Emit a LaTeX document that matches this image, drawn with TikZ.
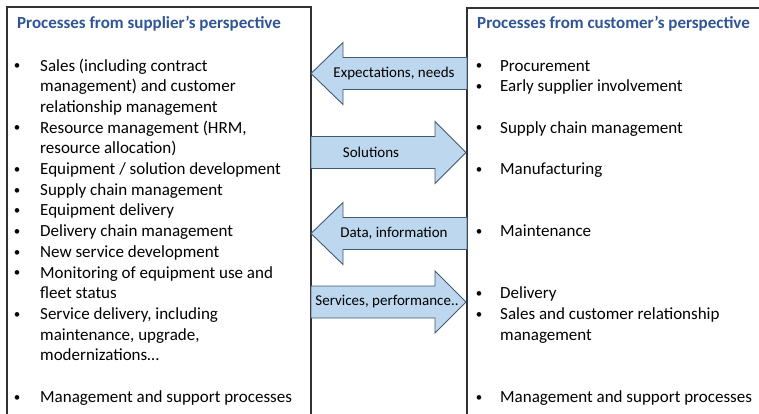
\documentclass[tikz,border=0pt]{standalone}
\usepackage{fontspec}
\setmainfont{Carlito}
\definecolor{titleblue}{RGB}{47,85,151}
\definecolor{arrfill}{RGB}{189,215,238}
\definecolor{arrdraw}{RGB}{65,90,115}
\definecolor{boxline}{RGB}{50,50,50}
\begin{document}
\begin{tikzpicture}[x=1bp,y=-1bp,
  boxln/.style={draw=boxline,line width=1.4bp},
  bigarrow/.style={fill=arrfill,draw=arrdraw,line width=0.9bp,line join=miter},
  ttl/.style={anchor=base west,inner sep=0,text=titleblue,font=\fontsize{17bp}{20bp}\selectfont\bfseries},
  itm/.style={anchor=base west,inner sep=0,font=\fontsize{17bp}{20bp}\selectfont},
  bul/.style={anchor=base,inner sep=0,yshift=1.2bp,font=\fontsize{13bp}{15bp}\selectfont},
  lbl/.style={anchor=center,inner sep=0,font=\fontsize{15bp}{18bp}\selectfont}]
\useasboundingbox (0,0) rectangle (759,413);
% boxes
\draw[boxln] (7,414) -- (7,7) -- (311,7) -- (311,414);
\draw[boxln] (467,414) -- (467,8) -- (760,8);
% arrows
\draw[bigarrow] (311,73.5) -- (343,42.5) -- (343,57.5) -- (467,57.5) -- (467,89.5) -- (343,89.5) -- (343,104.5) -- cycle;
\draw[bigarrow] (311,136.5) -- (435,136.5) -- (435,121.5) -- (466,152.5) -- (435,183.5) -- (435,168.5) -- (311,168.5) -- cycle;
\draw[bigarrow] (311,233.5) -- (343,202.5) -- (343,217.5) -- (467,217.5) -- (467,249.5) -- (343,249.5) -- (343,264.5) -- cycle;
\draw[bigarrow] (311,286) -- (435,286) -- (435,271) -- (466,302) -- (435,333) -- (435,318) -- (311,318) -- cycle;
\node[lbl] (l1) at (394,73.5) {Expectations, needs};
\node[lbl] (l2) at (371,152.5) {Solutions};
\node[lbl] (l3) at (394,233.5) {Data, information};
\node[lbl] (l4) at (387,302) {Services, performance..};
% titles
\node[ttl] (t1) at (17,28) {Processes from supplier’s perspective};
\node[ttl] (t2) at (477,28) {Processes from customer’s perspective};
% left list
\node[bul] (b1) at (17,71) {•};   \node[itm] (s1) at (40,71) {Sales (including contract};
\node[itm] (s1b) at (40,91.7) {management) and customer};
\node[itm] (s1c) at (40,112.4) {relationship management};
\node[bul] (b2) at (17,133.1) {•}; \node[itm] (s2) at (40,133.1) {Resource management (HRM,};
\node[itm] (s2b) at (40,153.8) {resource allocation)};
\node[bul] (b3) at (17,174.5) {•}; \node[itm] (s3) at (40,174.5) {Equipment / solution development};
\node[bul] (b4) at (17,195.2) {•}; \node[itm] (s4) at (40,195.2) {Supply chain management};
\node[bul] (b5) at (17,215.9) {•}; \node[itm] (s5) at (40,215.9) {Equipment delivery};
\node[bul] (b6) at (17,236.6) {•}; \node[itm] (s6) at (40,236.6) {Delivery chain management};
\node[bul] (b7) at (17,257.3) {•}; \node[itm] (s7) at (40,257.3) {New service development};
\node[bul] (b8) at (17,278) {•};   \node[itm] (s8) at (40,278) {Monitoring of equipment use and};
\node[itm] (s8b) at (40,298.7) {fleet status};
\node[bul] (b9) at (17,319.4) {•}; \node[itm] (s9) at (40,319.4) {Service delivery, including};
\node[itm] (s9b) at (40,340.1) {maintenance, upgrade,};
\node[itm] (s9c) at (40,360.8) {modernizations…};
\node[bul] (b10) at (17,402.2) {•}; \node[itm] (s10) at (40,402.2) {Management and support processes};
% right list
\node[bul] (c1) at (479,71) {•};    \node[itm] (r1) at (500,71) {Procurement};
\node[bul] (c2) at (479,91.7) {•};  \node[itm] (r2) at (500,91.7) {Early supplier involvement};
\node[bul] (c3) at (479,133.1) {•}; \node[itm] (r3) at (500,133.1) {Supply chain management};
\node[bul] (c4) at (479,174.5) {•}; \node[itm] (r4) at (500,174.5) {Manufacturing};
\node[bul] (c5) at (479,236.6) {•}; \node[itm] (r5) at (500,236.6) {Maintenance};
\node[bul] (c6) at (479,298.7) {•}; \node[itm] (r6) at (500,298.7) {Delivery};
\node[bul] (c7) at (479,319.4) {•}; \node[itm] (r7) at (500,319.4) {Sales and customer relationship};
\node[itm] (r7b) at (500,340.1) {management};
\node[bul] (c8) at (479,402.2) {•}; \node[itm] (r8) at (500,402.2) {Management and support processes};
\end{tikzpicture}
\end{document}
